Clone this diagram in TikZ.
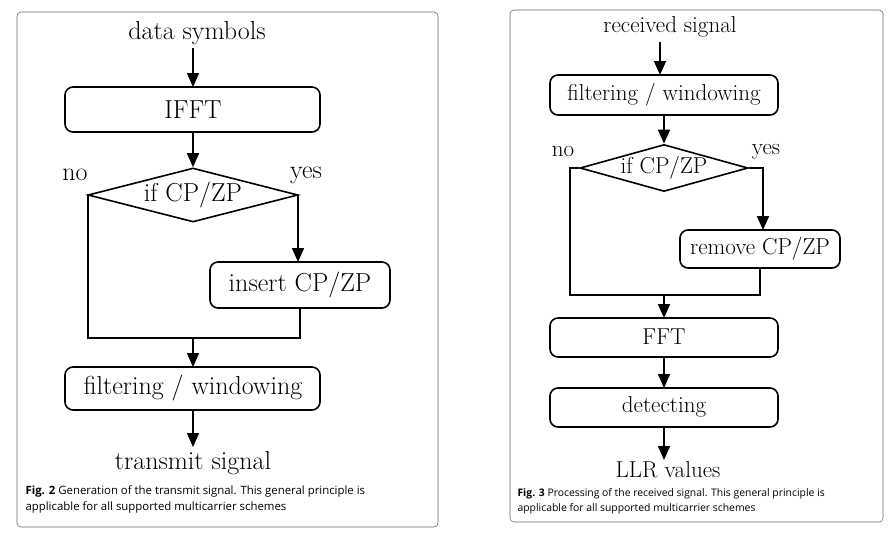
\documentclass[tikz,border=0pt]{standalone}
\usepackage{fontspec}
\newfontfamily\capf{Open Sans}
\usetikzlibrary{shapes.geometric,arrows.meta}
\begin{document}
\begin{tikzpicture}[x=1pt,y=-1pt,
 frame/.style={draw=black!60,line width=0.6pt,rounded corners=4pt},
 box/.style={draw,line width=1.6pt,rounded corners=8pt},
 ln/.style={line width=1.6pt},
 arr/.style={line width=1.6pt,-{Triangle[width=12pt,length=14pt]}},
 tl/.style={font=\fontsize{26}{30}\selectfont},
 tr/.style={font=\fontsize{23}{27}\selectfont},
 captxt/.style={font=\capf\fontsize{11.4}{16}\selectfont,anchor=north west,align=left}]
\useasboundingbox (0,0) rectangle (895,539);
\draw[frame] (17,12) rectangle (438,527);
\draw[frame] (510,10) rectangle (883,522);
% left
\node[tl] (ds) at (197,33) {data symbols};
\draw[box] (65,87) rectangle (320,132); \node[tl] (ifft) at (193,110) {IFFT};
\node[draw,diamond,aspect=3.9,line width=1.6pt,minimum width=210pt,minimum height=54pt,inner sep=0pt] (d1) at (193,195) {};
\node[tl] at (193,195) {if CP/ZP};
\node[tl] at (75,175) {no}; \node[tl] at (306,175) {yes};
\draw[box] (210,262) rectangle (390,308); \node[tl] (ins) at (300,285) {insert CP/ZP};
\draw[box] (65,367) rectangle (320,410); \node[tl] (filt) at (193,388) {filtering / windowing};
\node[tl] (ts) at (193,463) {transmit signal};
\coordinate (a1) at (193,48); \coordinate (a2) at (193,87);
\draw[arr] (a1) -- (a2);
\draw[arr] (193,132) -- (d1.north);
\draw[arr] (d1.east) -- (298,195) -- (298,262);
\draw[ln] (d1.west) -- (88,195) -- (88,338) -- (300,338) -- (300,308);
\draw[arr] (193,338) -- (193,367);
\draw[arr] (193,410) -- (193,447);
\node[captxt] at (22,482) {\textbf{Fig. 2} Generation of the transmit signal. This general principle is\\applicable for all supported multicarrier schemes};
% right
\node[tr] (rs) at (670,27) {received signal};
\draw[box] (550,75) rectangle (778,115); \node[tr] at (664,95) {filtering / windowing};
\node[draw,diamond,aspect=3.6,line width=1.6pt,minimum width=168pt,minimum height=47pt,inner sep=0pt] (d2) at (664,168) {};
\node[tr] at (664,168) {if CP/ZP};
\node[tr] at (563,152) {no}; \node[tr] at (766,152) {yes};
\draw[box] (680,230) rectangle (840,268); \node[tr] at (760,249) {remove CP/ZP};
\draw[box] (550,318) rectangle (778,357); \node[tr] at (664,337) {FFT};
\draw[box] (550,388) rectangle (778,427); \node[tr] at (664,407) {detecting};
\node[tr] (llr) at (668,470) {LLR values};
\draw[arr] (660,42) -- (660,75);
\draw[arr] (664,115) -- (d2.north);
\draw[arr] (d2.east) -- (763,168) -- (763,230);
\draw[ln] (d2.west) -- (570,168) -- (570,295) -- (760,295) -- (760,268);
\draw[arr] (664,295) -- (664,318);
\draw[arr] (664,357) -- (664,388);
\draw[arr] (664,427) -- (664,460);
\node[captxt,font=\capf\fontsize{10.4}{15}\selectfont] at (514,485) {\textbf{Fig. 3} Processing of the received signal. This general principle is\\applicable for all supported multicarrier schemes};
\end{tikzpicture}
\end{document}
